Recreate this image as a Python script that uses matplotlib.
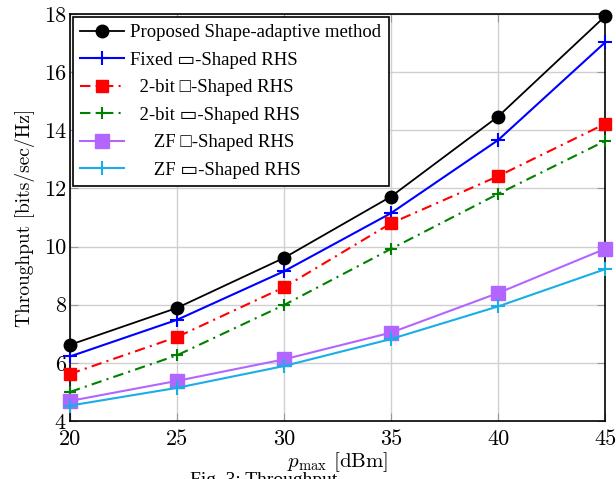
import matplotlib
matplotlib.use("Agg")
import matplotlib.pyplot as plt

p_max = [20, 25, 30, 35, 40, 45]
proposed = [6.62, 7.89, 9.61, 11.72, 14.47, 17.92]
fixed_rect = [6.22, 7.48, 9.15, 11.15, 13.66, 17.02]
bit2_square = [5.62, 6.89, 8.6, 10.8, 12.42, 14.22]
bit2_rect = [5.0, 6.26, 7.99, 9.92, 11.81, 13.63]
zf_square = [4.69, 5.38, 6.12, 7.04, 8.4, 9.92]
zf_rect = [4.53, 5.14, 5.89, 6.82, 7.94, 9.22]

labels = ["Proposed Shape-adaptive method",
          "Fixed \u25AD-Shaped RHS",
          "  2-bit \u25A1-Shaped RHS",
          "  2-bit \u25AD-Shaped RHS",
          "     ZF \u25A1-Shaped RHS",
          "     ZF \u25AD-Shaped RHS"]
xticks = [20, 25, 30, 35, 40, 45]
yticks = [4, 6, 8, 10, 12, 14, 16, 18]

plt.rcParams['mathtext.fontset'] = 'cm'
plt.rcParams['axes.formatter.use_mathtext'] = True

fig = plt.figure(figsize=(6.16, 4.79), dpi=100)
ax = fig.add_axes([70/616, 1-421/479, 535/616, 407/479])

ax.plot(p_max, proposed, color='black', lw=1.3, marker='o', ms=9, label=labels[0], clip_on=False, zorder=5)
ax.plot(p_max, fixed_rect, color='#0000ff', lw=1.5, marker='+', ms=10, mew=1.5, label=labels[1], clip_on=False, zorder=4)
ax.plot(p_max, bit2_square, color='red', lw=1.5, ls=(0, (5, 2.5, 1, 2.5)), marker='s', ms=8, label=labels[2], clip_on=False, zorder=4)
ax.plot(p_max, bit2_rect, color='#008000', lw=1.5, ls=(0, (5, 2.5, 1, 2.5)), marker='+', ms=9, mew=1.5, label=labels[3], clip_on=False, zorder=4)
ax.plot(p_max, zf_square, color='#b266ff', lw=1.5, marker='s', ms=10, label=labels[4], clip_on=False, zorder=4)
ax.plot(p_max, zf_rect, color='#1aaee6', lw=1.5, marker='+', ms=10, mew=1.5, label=labels[5], clip_on=False, zorder=4)

ax.set_xlim(20, 45)
ax.set_ylim(4, 18)
ax.set_xticks(xticks)
ax.set_yticks(yticks)
ax.set_xticklabels([str(v) for v in xticks], fontfamily='cmr10', fontsize=16)
ax.set_yticklabels([str(v) for v in yticks], fontfamily='cmr10', fontsize=16)
ax.tick_params(direction='in', length=6, color='#999999', top=True, right=True, pad=3)
ax.tick_params(axis='x', pad=6)
ax.grid(True, color='#d0d0d0', lw=1)
ax.set_axisbelow(True)
for s in ax.spines.values():
    s.set_linewidth(1.2)

ax.set_xlabel(r'$p_{\max}$ [dBm]', fontfamily='cmr10', fontsize=15, labelpad=1)
ax.set_ylabel('Throughput [bits/sec/Hz]', fontfamily='cmr10', fontsize=14, labelpad=6)

leg = ax.legend(loc='upper left', prop={'family': ['Liberation Serif', 'DejaVu Sans'], 'size': 13.5},
                fancybox=False, framealpha=1, edgecolor='black', handlelength=2.35,
                borderaxespad=0.15, labelspacing=0.55, handletextpad=0.3, borderpad=0.4)
leg.get_frame().set_linewidth(1.2)

fig.text(190/616, 1-472/479, 'Fig. 3: Throughput', family='Liberation Serif', fontsize=14, va='top', ha='left')

fig.savefig('out.png', dpi=100)
